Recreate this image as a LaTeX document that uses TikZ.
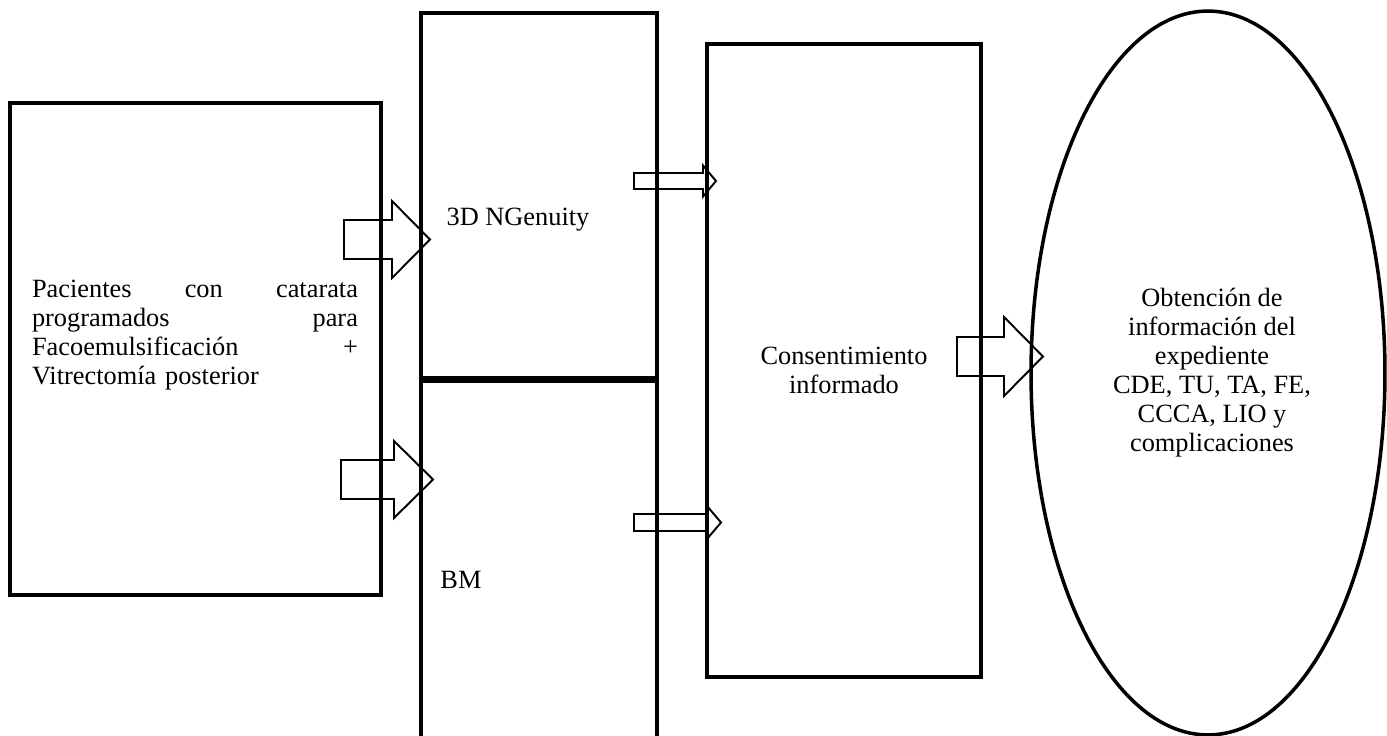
\documentclass[tikz,border=0pt]{standalone}
\usepackage{fontspec}
\setmainfont{Liberation Serif}
\tikzset{
  caja/.style={line width=2pt},
  flecha/.style={line width=1.1pt, line join=miter},
  texto/.style={font=\fontsize{15}{16.5}\selectfont, inner sep=0pt},
}
% flecha de bloque: x cola, x base cabeza, x punta, y centro, medio cuerpo, media cabeza
\newcommand{\flechabloque}[6]{%
  \draw[flecha] (#1,#4-#5) -- (#2,#4-#5) -- (#2,#4-#6) -- (#3,#4)
    -- (#2,#4+#6) -- (#2,#4+#5) -- (#1,#4+#5) -- cycle;}
\begin{document}
\begin{tikzpicture}[x=0.02cm, y=-0.02cm]
    \useasboundingbox (0,0) rectangle (1387,736);
    \clip (0,0) rectangle (1387,736);
    % Cajas
    \draw[caja] (10,103) rectangle (381,595);
    \draw[caja] (421,13) rectangle (657,378);
    \draw[caja] (421,381) rectangle (657,760);
    \draw[caja] (707,44) rectangle (981,677);
    \draw[caja] (1208,373) ellipse [x radius=3.54cm, y radius=7.24cm];
    % Textos
    \node[texto, text width=6.52cm, align=left] (pacientes) at (195,335)
        {Pacientes\hfill con\hfill catarata\\ programados\hfill para\\
         Facoemulsificación\hfill +\\ Vitrectomía posterior};
    \node[texto] (ngenuity) at (518,220) {3D NGenuity};
    \node[texto] (bm) at (461,580) {BM};
    \node[texto, align=center] (consentimiento) at (844,370)
        {Consentimiento\\ informado};
    \node[texto, align=center] (obtencion) at (1212,373)
        {Obtención de\\ información del\\ expediente\\ CDE, TU, TA, FE,\\
         CCCA, LIO y\\ complicaciones};
    % Flechas
    \flechabloque{344}{392}{430}{239.5}{19.5}{38.5}
    \flechabloque{341}{394}{433}{479.5}{19.5}{38.5}
    \flechabloque{634}{703}{716}{181}{8}{15.5}
    \flechabloque{634}{707}{721}{522.5}{8.5}{16.5}
    \flechabloque{957}{1004}{1043}{356.5}{19.5}{39.5}
\end{tikzpicture}
\end{document}
